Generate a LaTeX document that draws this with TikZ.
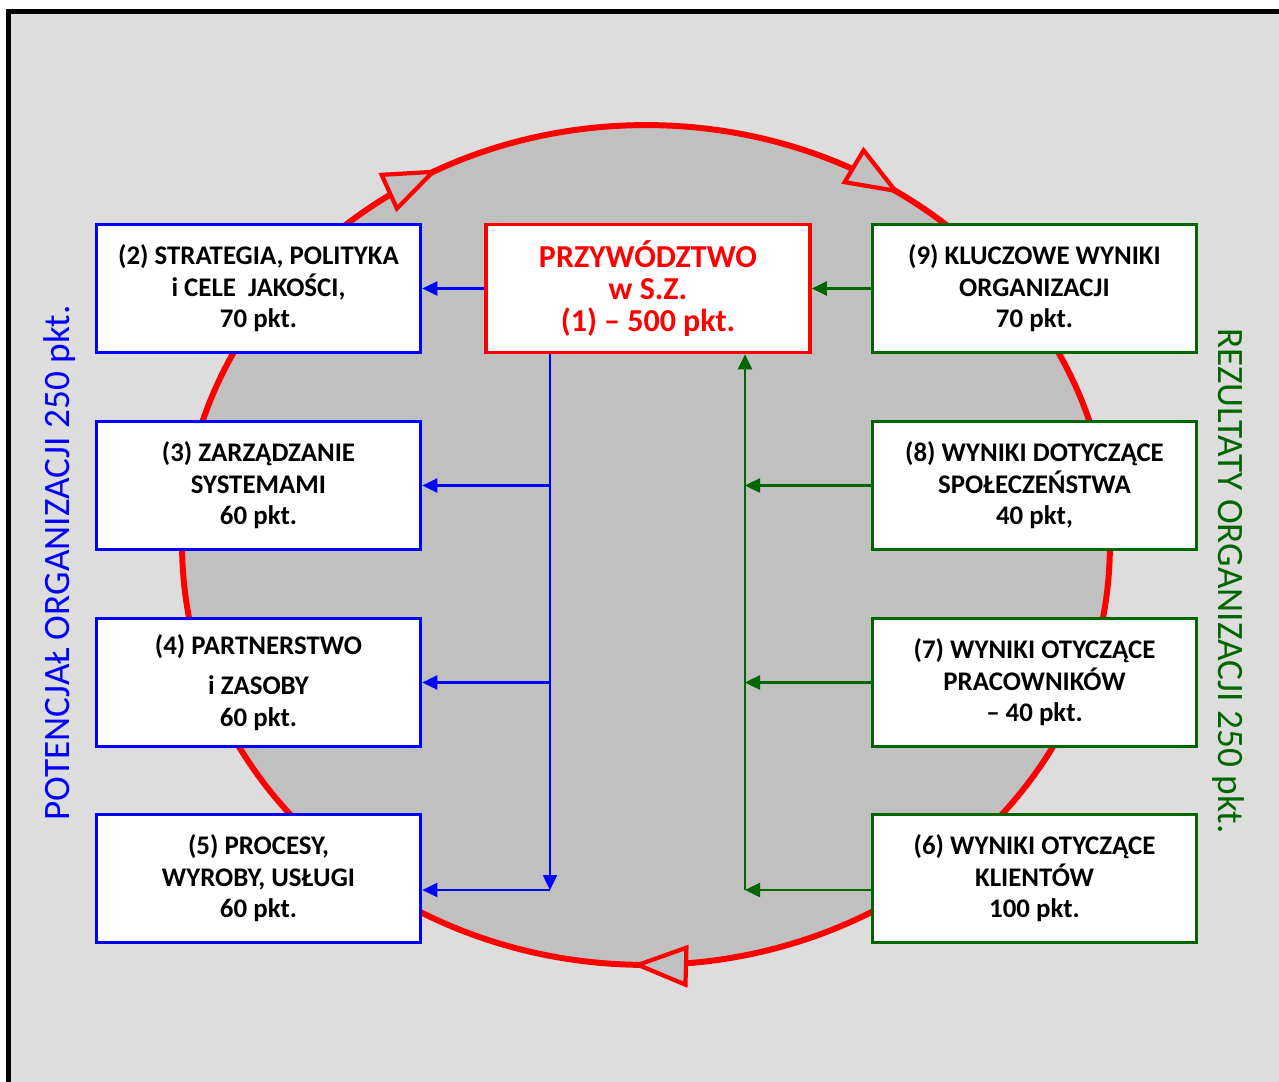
\documentclass[tikz,border=0pt]{standalone}
\usepackage{fontspec}
\setmainfont{Carlito}
\usetikzlibrary{arrows.meta, decorations.markings}
\definecolor{framegray}{RGB}{221,221,221}
\definecolor{ringgray}{RGB}{192,192,192}
\definecolor{darkgreen}{RGB}{0,102,0}
\definecolor{purered}{RGB}{255,0,0}
\definecolor{pureblue}{RGB}{0,0,255}

\begin{document}
\begin{tikzpicture}[x=0.02cm, y=-0.02cm,
  box/.style={draw, line width=2.1pt, fill=white, minimum width=6.48cm, minimum height=2.56cm,
    align=center, inner sep=0pt, font=\bfseries\fontsize{15.3}{18}\selectfont},
  bluebox/.style={box, draw=pureblue},
  greenbox/.style={box, draw=darkgreen},
  redbox/.style={box, draw=purered, text=purered, font=\bfseries\fontsize{18.2}{18}\selectfont},
  bluearr/.style={pureblue, line width=1.4pt, -{Triangle[length=0.3cm, width=0.28cm]}},
  greenarr/.style={darkgreen, line width=1.4pt, -{Triangle[length=0.3cm, width=0.28cm]}},
  ringtip/.tip={Triangle[length=1.12cm, width=0.84cm, fill=ringgray, line width=2.4pt]},
  sidelabel/.style={font=\fontsize{21.2}{24}\selectfont}]
  \clip (0,0) rectangle (1279,1082);
  \fill[white] (0,0) rectangle (1279,1082);
  \draw[line width=2.3pt, fill=framegray] (8.5,11.5) rectangle (1300,1100);

  % cykl doskonalenia
  \draw[purered, line width=3.4pt, fill=ringgray, postaction={decorate},
    decoration={markings,
      mark=at position 0.154 with {\arrowreversed{ringtip}},
      mark=at position 0.327 with {\arrowreversed{ringtip}},
      mark=at position 0.745 with {\arrowreversed{ringtip}}}]
    (646,545) ellipse [x radius=9.28cm, y radius=8.4cm];

  % przywodztwo
  \node[redbox] (lead) at (648,288.5) {PRZYWÓDZTWO\\w S.Z.\\(1) -- 500 pkt.};

  % potencjal
  \node[bluebox] (strat) at (258.5,288.5) {(2) STRATEGIA, POLITYKA\\i CELE\ \ JAKOŚCI,\\70 pkt.};
  \node[bluebox] (syst) at (258.5,485.5) {(3) ZARZĄDZANIE\\SYSTEMAMI\\60 pkt.};
  \node[bluebox] (partn) at (258.5,682.5) {(4) PARTNERSTWO\\[5pt]i ZASOBY\\60 pkt.};
  \node[bluebox] (proc) at (258.5,878.5) {(5) PROCESY,\\WYROBY, USŁUGI\\60 pkt.};

  % rezultaty
  \node[greenbox] (key) at (1034.5,288.5) {(9) KLUCZOWE WYNIKI\\ORGANIZACJI\\70 pkt.};
  \node[greenbox] (soc) at (1034.5,485.5) {(8) WYNIKI DOTYCZĄCE\\SPOŁECZEŃSTWA\\40 pkt,};
  \node[greenbox] (staff) at (1034.5,682.5) {(7) WYNIKI OTYCZĄCE\\PRACOWNIKÓW\\-- 40 pkt.};
  \node[greenbox] (cust) at (1034.5,878.5) {(6) WYNIKI OTYCZĄCE\\KLIENTÓW\\100 pkt.};

  % opisy boczne
  \node[sidelabel, pureblue, rotate=90] (potlabel) at (60,563) {POTENCJAŁ ORGANIZACJI 250 pkt.};
  \node[sidelabel, darkgreen, rotate=-90] (reslabel) at (1228,581) {REZULTATY ORGANIZACJI 250 pkt.};

  % polaczenia
  \coordinate (bjoin) at (550,890);
  \coordinate (gjoin) at (745,890);
  \draw[bluearr] (lead.west) -- (strat.east);
  \draw[bluearr] (lead.south -| bjoin) -- (bjoin);
  \draw[bluearr] (bjoin |- syst.east) -- (syst.east);
  \draw[bluearr] (bjoin |- partn.east) -- (partn.east);
  \draw[bluearr] (bjoin) -- (bjoin -| proc.east);

  \draw[greenarr] (key.west) -- (lead.east);
  \draw[greenarr] (gjoin) -- (lead.south -| gjoin);
  \draw[greenarr] (soc.west) -- (gjoin |- soc.west);
  \draw[greenarr] (staff.west) -- (gjoin |- staff.west);
  \draw[greenarr] (gjoin -| cust.west) -- (gjoin);
\end{tikzpicture}
\end{document}
